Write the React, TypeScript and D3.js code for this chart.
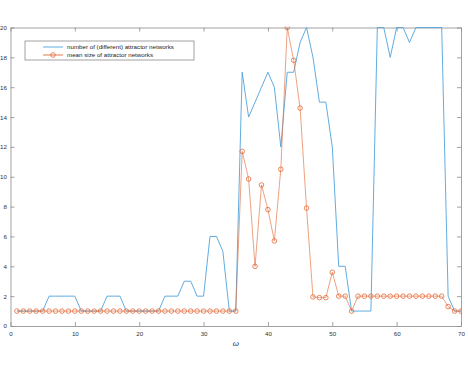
import React, { useEffect, useRef } from 'react';
import * as d3 from 'd3';

const omega = d3.range(1, 71);

const numNetworks = [
  1, 1, 1, 1, 1, 2, 2, 2, 2, 2,
  1, 1, 1, 1, 2, 2, 2, 1, 1, 1,
  1, 1, 1, 2, 2, 2, 3, 3, 2, 2,
  6, 6, 5, 1, 1, 17, 14, 15, 16, 17,
  16, 12, 17, 17, 19, 20, 18, 15, 15, 12,
  4, 4, 1, 1, 1, 1, 20, 20, 18, 20,
  20, 19, 20, 20, 20, 20, 20, 2, 1, 1
];

const meanSize = [
  1, 1, 1, 1, 1, 1, 1, 1, 1, 1,
  1, 1, 1, 1, 1, 1, 1, 1, 1, 1,
  1, 1, 1, 1, 1, 1, 1, 1, 1, 1,
  1, 1, 1, 1, 1, 11.7, 9.85, 4, 9.45, 7.8,
  5.7, 10.5, 20, 17.8, 14.6, 7.9, 1.95, 1.9, 1.9, 3.6,
  2, 2, 1, 2, 2, 2, 2, 2, 2, 2,
  2, 2, 2, 2, 2, 2, 2, 1.3, 1, 1
];

const xTicks = [0, 10, 20, 30, 40, 50, 60, 70];
const yTicks = [0, 2, 4, 6, 8, 10, 12, 14, 16, 18, 20];
const seriesNames = ['number of (different) attractor networks', 'mean size of attractor networks'];

const BLUE = '#4fa3dd';
const ORANGE = '#e36a38';
const AXIS = '#8a8a8a';
const TEXT = '#333';

const AttractorChart = () => {
  const svgRef = useRef(null);

  useEffect(() => {
    const svgWidth = 468;
    const svgHeight = 367;
    const margin = { top: 27.5, right: 7, bottom: 41, left: 10.5 };
    const width = svgWidth - margin.left - margin.right;
    const height = svgHeight - margin.top - margin.bottom;

    const svg = d3.select(svgRef.current)
      .attr('width', svgWidth)
      .attr('height', svgHeight)
      .style('font-family', 'Liberation Sans, Arial, sans-serif')
      .html('');

    svg.append('defs').append('clipPath').attr('id', 'plot-clip')
      .append('rect').attr('x', -1).attr('y', -1).attr('width', width + 2).attr('height', height + 2);

    const g = svg.append('g').attr('transform', `translate(${margin.left},${margin.top})`);

    const x = d3.scaleLinear().domain([0, 70]).range([0, width]);
    const y = d3.scaleLinear().domain([0, 20]).range([height, 0]);

    // axes (MATLAB-style: ticks pointing inwards, box on)
    const tickLen = 4;
    const styleAxis = (sel) => {
      sel.select('.domain').attr('stroke', AXIS).attr('stroke-width', 0.8);
      sel.selectAll('.tick line').attr('stroke', AXIS).attr('stroke-width', 0.8);
      sel.selectAll('.tick text').attr('fill', TEXT).style('font-size', '6.2px');
    };

    g.append('g')
      .attr('transform', `translate(0,${height})`)
      .call(d3.axisBottom(x).tickValues(xTicks).tickSizeInner(-tickLen).tickSizeOuter(0).tickPadding(6))
      .call(styleAxis);

    g.append('g')
      .call(d3.axisTop(x).tickValues(xTicks).tickSizeInner(-tickLen).tickSizeOuter(0).tickFormat(''))
      .call(styleAxis);

    g.append('g')
      .call(d3.axisLeft(y).tickValues(yTicks).tickSizeInner(-tickLen).tickSizeOuter(0).tickPadding(3.5))
      .call(styleAxis);

    g.append('g')
      .attr('transform', `translate(${width},0)`)
      .call(d3.axisRight(y).tickValues(yTicks).tickSizeInner(-tickLen).tickSizeOuter(0).tickFormat(''))
      .call(styleAxis);

    g.append('text')
      .attr('x', width / 2)
      .attr('y', height + 20)
      .attr('text-anchor', 'middle')
      .style('font-size', '8px')
      .style('font-style', 'italic')
      .attr('fill', TEXT)
      .text('ω');

    const plot = g.append('g').attr('clip-path', 'url(#plot-clip)');

    const line = d3.line()
      .x((d) => x(d[0]))
      .y((d) => y(d[1]));

    plot.append('path')
      .datum(omega.map((w, i) => [w, numNetworks[i]]))
      .attr('fill', 'none')
      .attr('stroke', BLUE)
      .attr('stroke-width', 0.9)
      .attr('d', line);

    const sizeData = omega.map((w, i) => [w, meanSize[i]]);
    plot.append('path')
      .datum(sizeData)
      .attr('fill', 'none')
      .attr('stroke', ORANGE)
      .attr('stroke-opacity', 0.7)
      .attr('stroke-width', 0.9)
      .attr('d', line);

    plot.selectAll('.marker')
      .data(sizeData)
      .enter()
      .append('circle')
      .attr('class', 'marker')
      .attr('cx', (d) => x(d[0]))
      .attr('cy', (d) => y(d[1]))
      .attr('r', 2.3)
      .attr('fill', 'none')
      .attr('stroke', ORANGE)
      .attr('stroke-width', 0.8);

    // legend
    const legend = svg.append('g').attr('transform', 'translate(25,41)');
    legend.append('rect')
      .attr('width', 169).attr('height', 19)
      .attr('fill', '#fff')
      .attr('stroke', AXIS)
      .attr('stroke-width', 0.8);

    const colors = [BLUE, ORANGE];
    seriesNames.forEach((name, i) => {
      const row = legend.append('g').attr('transform', `translate(0,${6 + i * 8})`);
      row.append('line')
        .attr('x1', 18).attr('x2', 38)
        .attr('stroke', colors[i])
        .attr('stroke-width', 0.9);
      if (i === 1) {
        row.append('circle')
          .attr('cx', 28).attr('r', 2.3)
          .attr('fill', 'none')
          .attr('stroke', ORANGE)
          .attr('stroke-width', 0.8);
      }
      row.append('text')
        .attr('x', 42)
        .attr('dy', '0.35em')
        .style('font-size', '6.2px')
        .attr('fill', '#222')
        .text(name);
    });
  }, []);

  return <svg ref={svgRef} style={{ position: 'absolute', left: 0, top: 0 }} />;
};

export default function App() {
  return <AttractorChart />;
}
